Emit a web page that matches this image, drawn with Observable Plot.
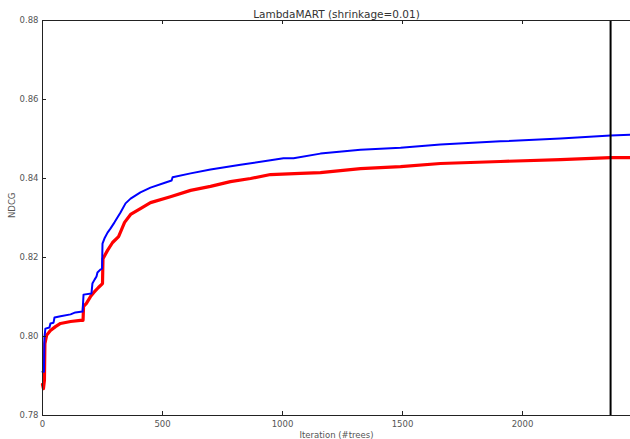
<!DOCTYPE html>
<html>
<head>
<meta charset="utf-8">
<script src="https://cdn.jsdelivr.net/npm/d3@7"></script>
<script src="https://cdn.jsdelivr.net/npm/@observablehq/plot@0.6"></script>
<style>
  html, body { margin: 0; padding: 0; background: #fff; }
  #chart svg { display: block; }
</style>
</head>
<body>
<div id="chart"></div>
<script>
// ---- Data ----
const title = "LambdaMART (shrinkage=0.01)";
const xLabel = "Iteration (#trees)";
const yLabel = "NDCG";
const xTicks = [0, 500, 1000, 1500, 2000];
const yTicks = [0.78, 0.80, 0.82, 0.84, 0.86, 0.88];
const xDomain = [0, 2450];
const yDomain = [0.78, 0.88];
const cutoffIteration = 2367;

const blueIter = [0, 6, 8, 12, 29, 33, 46, 50, 75, 117, 137, 167, 171, 204, 208, 217, 225, 229, 242, 248, 250, 258, 271, 283, 300, 325, 346, 367, 408, 450, 513, 538, 542, 617, 700, 825, 950, 1004, 1046, 1158, 1325, 1492, 1658, 1908, 2158, 2367, 2450];
const blueNdcg = [0.7911, 0.7911, 0.7997, 0.8020, 0.8023, 0.8033, 0.8035, 0.8048, 0.8051, 0.8056, 0.8061, 0.8063, 0.8106, 0.8109, 0.8134, 0.8144, 0.8152, 0.8162, 0.8170, 0.8172, 0.8235, 0.8248, 0.8263, 0.8273, 0.8289, 0.8314, 0.8337, 0.8349, 0.8365, 0.8377, 0.8390, 0.8395, 0.8403, 0.8413, 0.8423, 0.8435, 0.8446, 0.8451, 0.8451, 0.8463, 0.8473, 0.8478, 0.8486, 0.8494, 0.8501, 0.8509, 0.8511];

const redIter = [0, 4, 8, 10, 17, 33, 54, 75, 117, 158, 169, 171, 183, 200, 213, 233, 250, 252, 271, 292, 317, 342, 367, 408, 450, 533, 617, 700, 783, 867, 950, 1075, 1158, 1325, 1492, 1658, 1908, 2158, 2367, 2450];
const redNdcg = [0.7879, 0.7868, 0.7889, 0.7982, 0.8003, 0.8015, 0.8025, 0.8033, 0.8038, 0.8041, 0.8041, 0.8076, 0.8084, 0.8101, 0.8111, 0.8124, 0.8134, 0.8197, 0.8218, 0.8238, 0.8253, 0.8289, 0.8309, 0.8324, 0.8339, 0.8354, 0.8370, 0.8380, 0.8392, 0.8400, 0.8410, 0.8413, 0.8415, 0.8425, 0.8430, 0.8438, 0.8443, 0.8448, 0.8453, 0.8453];

const blue = blueIter.map((x, i) => ({x, y: blueNdcg[i]}));
const red = redIter.map((x, i) => ({x, y: redNdcg[i]}));

const W = 630, H = 439;
const mTop = 20, mBottom = 24, mLeft = 42, mRight = 0;
const frameH = H - mTop - mBottom;
const tickLen = 4;
const textColor = "#555";

const chart = Plot.plot({
  width: W,
  height: H,
  marginTop: mTop,
  marginBottom: mBottom,
  marginLeft: mLeft,
  marginRight: mRight,
  style: {fontFamily: "DejaVu Sans", fontSize: "8.5px", background: "#fff"},
  x: {domain: xDomain},
  y: {domain: yDomain},
  marks: [
    Plot.line(red, {x: "x", y: "y", stroke: "#ff0000", strokeWidth: 3.2}),
    Plot.line(blue, {x: "x", y: "y", stroke: "#0000ff", strokeWidth: 2}),
    Plot.ruleX([cutoffIteration], {stroke: "#000", strokeWidth: 2}),
    // spines
    Plot.ruleY(yDomain, {stroke: "#222", strokeWidth: 1}),
    Plot.ruleX([xDomain[0]], {stroke: "#222", strokeWidth: 1}),
    // inward ticks
    Plot.tickX(xTicks, {x: d => d, stroke: "#222", insetTop: frameH - tickLen}),
    Plot.tickX(xTicks, {x: d => d, stroke: "#222", insetBottom: frameH - tickLen}),
    Plot.tickY(yTicks, {y: d => d, stroke: "#222", insetRight: (W - mLeft - mRight) - tickLen}),
    Plot.axisX(xTicks, {tickSize: 0, tickPadding: 5, fill: textColor, tickFormat: d3.format("d"), label: null}),
    Plot.axisY(yTicks, {tickSize: 0, tickPadding: 4, fill: textColor, tickFormat: d3.format(".2f"), label: null}),
    Plot.text([xLabel], {frameAnchor: "bottom", lineAnchor: "bottom", dy: 22, text: d => d, fill: textColor}),
    Plot.text([yLabel], {frameAnchor: "left", rotate: -90, dx: -30, text: d => d, fill: textColor}),
    Plot.text([title], {frameAnchor: "top", lineAnchor: "bottom", dy: -3, text: d => d, fontSize: 10.5, fill: "#333"})
  ]
});
document.getElementById("chart").appendChild(chart);
</script>
</body>
</html>
